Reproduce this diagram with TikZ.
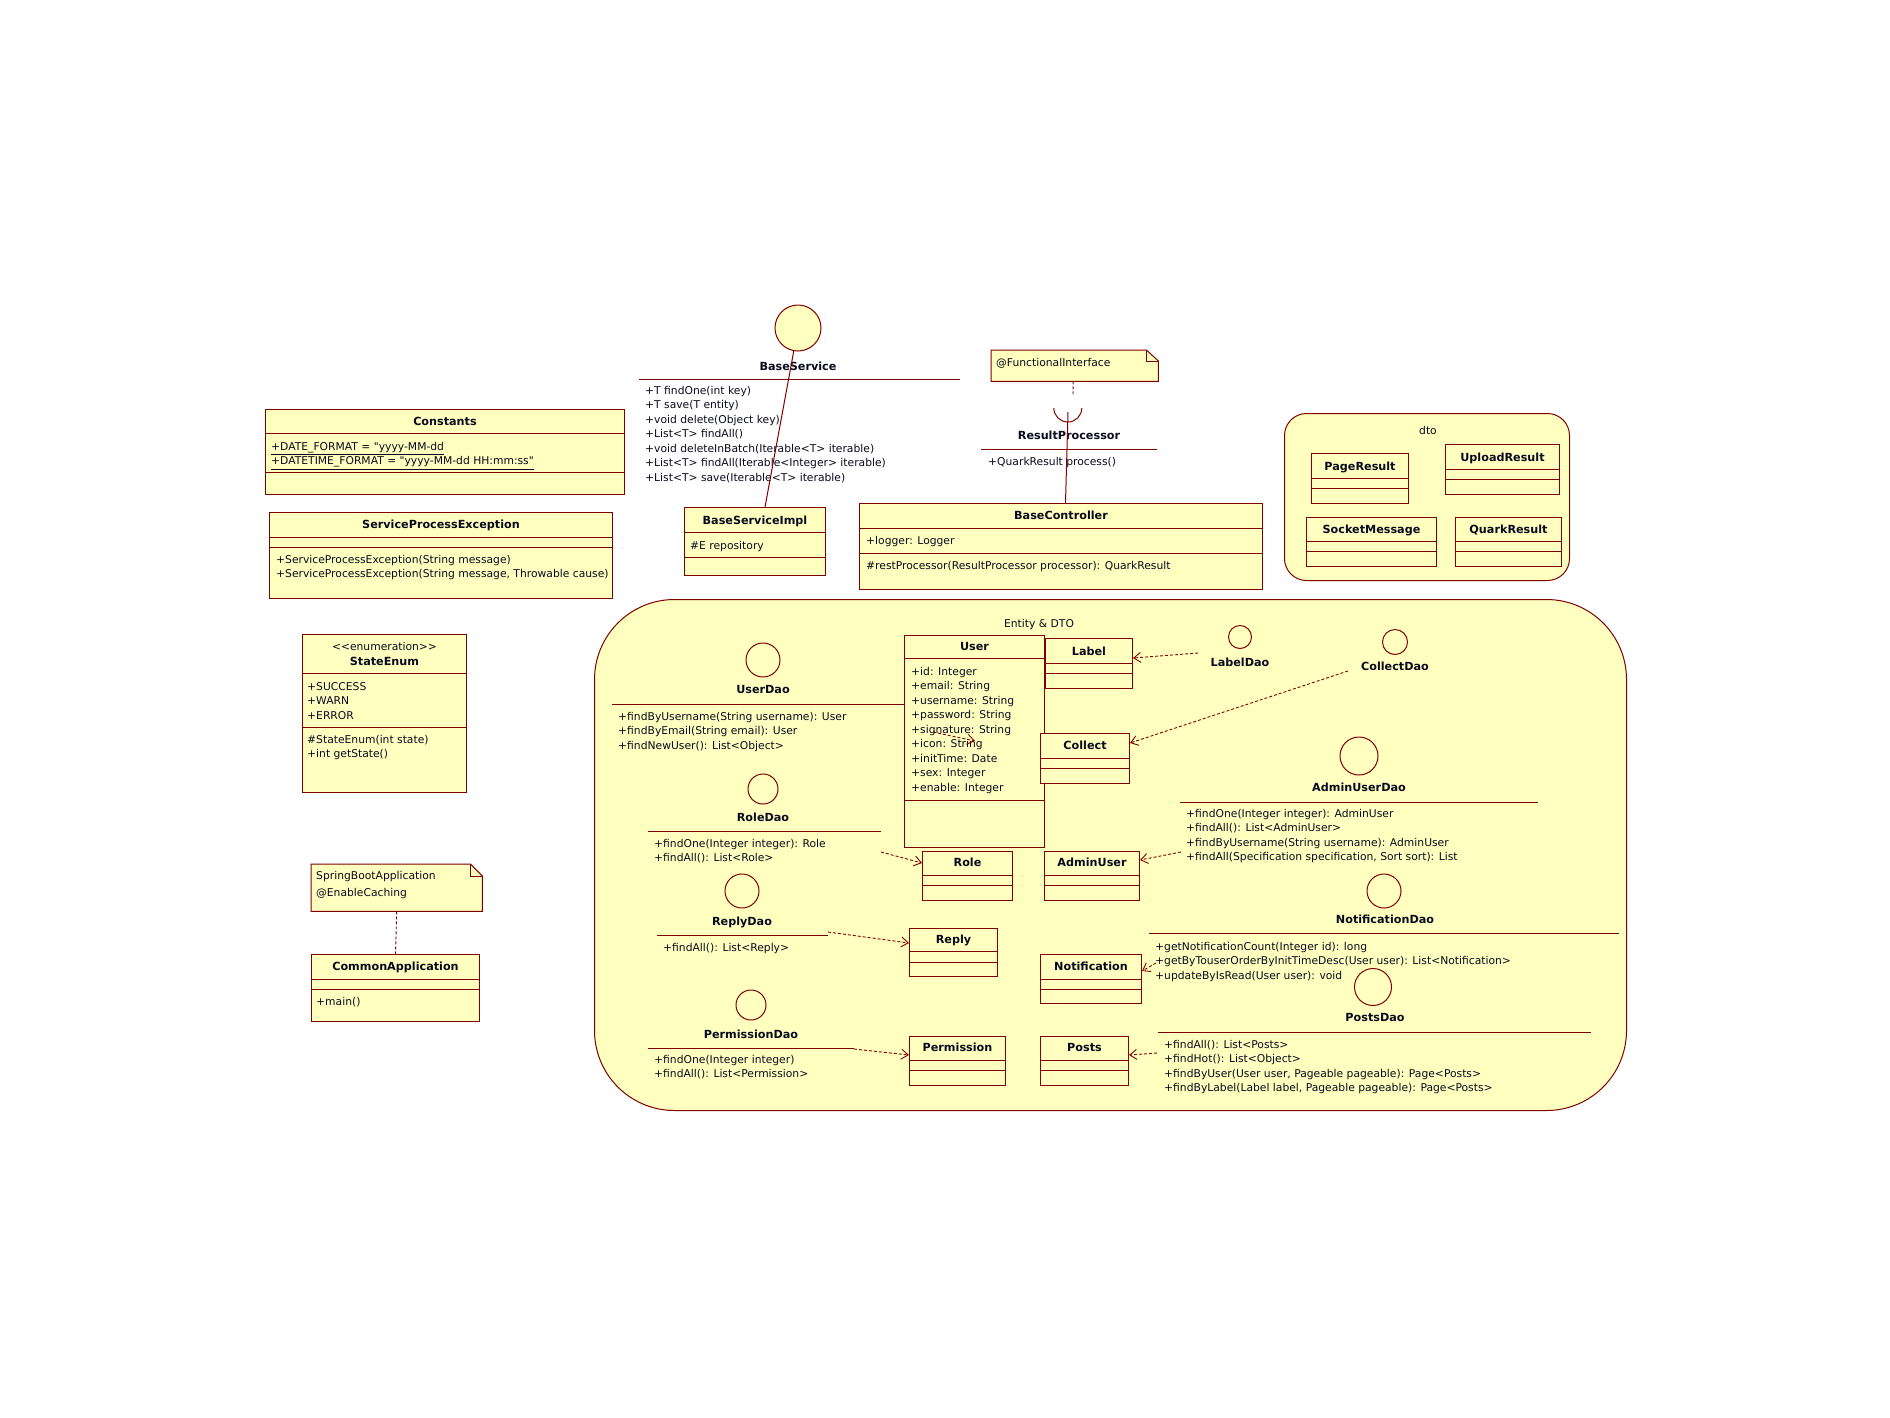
\documentclass[tikz,border=0pt]{standalone}
\usepackage{fontspec}
\setmainfont{DejaVu Sans}
\usetikzlibrary{positioning,calc,arrows.meta}
\definecolor{umlFill}{RGB}{255,255,192}
\definecolor{umlEdge}{RGB}{128,0,0}
\definecolor{umlInk}{RGB}{10,10,30}

\begin{document}
\begin{tikzpicture}[
  x=1pt,y=-1pt,
  font=\fontsize{10.75}{14.5}\selectfont,text=umlInk,
  cls/.style={draw=umlEdge,fill=umlFill,line width=1pt,anchor=north west,inner sep=0pt},
  ttl/.style={font=\fontsize{11.2}{14.5}\selectfont\bfseries,inner sep=0pt,anchor=base},
  plain/.style={inner sep=0pt,anchor=base},
  mbr/.style={align=left,anchor=north west,inner sep=0pt},
  divider/.style={draw=umlEdge,line width=1pt},
  iface/.style={circle,draw=umlEdge,fill=umlFill,line width=1pt,inner sep=0pt},
  real/.style={draw=umlEdge,line width=1pt},
  dep/.style={draw=umlEdge,line width=0.9pt,dash pattern=on 3pt off 2pt,
              -{Straight Barb[length=7pt,width=10pt]}},
  noteline/.style={draw=umlEdge,line width=0.9pt,dash pattern=on 3pt off 2pt},
  notebox/.style={anchor=north west,inner sep=0pt},
  notedraw/.style={draw=umlEdge,fill=umlFill,line width=1pt},
  pkg/.style={draw=umlEdge,fill=umlFill,line width=1pt,anchor=north west,inner sep=0pt}
]
\path[use as bounding box,fill=white] (0,0) rectangle (1890,1417);

% ==========  Packages  ==========
\node[pkg,minimum width=1032pt,minimum height=511pt,rounded corners=80pt] (entpkg) at (594,599) {};
\node[plain] (entpkg-t) at (1039,627) {Entity \& DTO};
\node[pkg,minimum width=285pt,minimum height=167pt,rounded corners=22pt] (dtopkg) at (1284,413) {};
\node[plain] (dtopkg-t) at (1428,434) {dto};

% ==========  Left column  ==========
\node[cls,minimum width=359pt,minimum height=85pt] (const) at (265,409) {};
\node[ttl] (const-t) at ([yshift=-16pt]const.north) {Constants};
\draw[divider] ([yshift=-24pt]const.north west) -- ([yshift=-24pt]const.north east)
               ([yshift=-63pt]const.north west) -- ([yshift=-63pt]const.north east);
\node[mbr] (const-a) at (271,442)
  {\underline{+DATE\_FORMAT = \textquotedbl yyyy-MM-dd}\\
   \underline{+DATETIME\_FORMAT = \textquotedbl yyyy-MM-dd HH:mm:ss\textquotedbl}};

\node[cls,minimum width=343pt,minimum height=86pt] (spe) at (269,512) {};
\node[ttl] (spe-t) at ([yshift=-16pt]spe.north) {ServiceProcessException};
\draw[divider] ([yshift=-25pt]spe.north west) -- ([yshift=-25pt]spe.north east)
               ([yshift=-35pt]spe.north west) -- ([yshift=-35pt]spe.north east);
\node[mbr] (spe-o) at (276,555)
  {+ServiceProcessException(String message)\\+ServiceProcessException(String message, Throwable cause)};

\node[cls,minimum width=164pt,minimum height=158pt] (senum) at (302,634) {};
\node[plain] (senum-s) at ([yshift=-16pt]senum.north) {<{}<enumeration>{}>};
\node[ttl] (senum-t) at ([yshift=-31pt]senum.north) {StateEnum};
\draw[divider] ([yshift=-39pt]senum.north west) -- ([yshift=-39pt]senum.north east)
               ([yshift=-93pt]senum.north west) -- ([yshift=-93pt]senum.north east);
\node[mbr] (senum-a) at (307,682) {+SUCCESS\\+WARN\\+ERROR};
\node[mbr] (senum-o) at (307,735) {\#StateEnum(int state)\\+int getState()};

% note + CommonApplication
\node[notebox,minimum width=171pt,minimum height=47pt] (sbnote) at (311,864) {};
\filldraw[notedraw] (sbnote.north west) -- ([xshift=-12pt]sbnote.north east)
  -- ([yshift=-12pt]sbnote.north east) -- (sbnote.south east) -- (sbnote.south west) -- cycle;
\draw[divider] ([xshift=-12pt]sbnote.north east) |- ([yshift=-12pt]sbnote.north east);
\node[mbr] (sbnote-x) at (316,871) {SpringBootApplication\\[2.5pt]@EnableCaching};

\node[cls,minimum width=168pt,minimum height=67pt] (capp) at (311,954) {};
\node[ttl] (capp-t) at ([yshift=-16pt]capp.north) {CommonApplication};
\draw[divider] ([yshift=-25pt]capp.north west) -- ([yshift=-25pt]capp.north east)
               ([yshift=-35pt]capp.north west) -- ([yshift=-35pt]capp.north east);
\node[mbr] (capp-o) at (316,997) {+main()};
\draw[noteline] (sbnote.south) -- (capp.north);

% ==========  Service / controller  ==========
\node[iface,minimum size=46pt] (bsv) at (798,328) {};
\node[ttl] (bsv-t) at (798,370) {BaseService};
\draw[divider] (639,379) -- (960,379);
\node[mbr] (bsv-o) at (645,386)
  {+T findOne(int key)\\+T save(T entity)\\+void delete(Object key)\\+List<T> findAll()\\
   +void deleteInBatch(Iterable<T> iterable)\\+List<T> findAll(Iterable<Integer> iterable)\\
   +List<T> save(Iterable<T> iterable)};

\node[cls,minimum width=141pt,minimum height=68pt] (bsimpl) at (684,507) {};
\node[ttl] (bsimpl-t) at ([yshift=-17pt]bsimpl.north) {BaseServiceImpl};
\draw[divider] ([yshift=-25pt]bsimpl.north west) -- ([yshift=-25pt]bsimpl.north east)
               ([yshift=-50pt]bsimpl.north west) -- ([yshift=-50pt]bsimpl.north east);
\node[mbr] (bsimpl-a) at (690,541) {\#E repository};
\draw[real] (bsv) -- ([xshift=10pt]bsimpl.north);

\node[notebox,minimum width=167pt,minimum height=31pt] (fnote) at (991,350) {};
\filldraw[notedraw] (fnote.north west) -- ([xshift=-12pt]fnote.north east)
  -- ([yshift=-11pt]fnote.north east) -- (fnote.south east) -- (fnote.south west) -- cycle;
\draw[divider] ([xshift=-12pt]fnote.north east) |- ([yshift=-11pt]fnote.north east);
\node[mbr] (fnote-x) at (996,358) {@FunctionalInterface};
\coordinate (fnote-end) at (1073,395);
\draw[noteline] ([xshift=-1.5pt]fnote.south) -- (fnote-end);

\node[inner sep=0pt,minimum size=28pt,circle] (rpsock) at (1068,408) {};
\draw[real] (rpsock.west) arc[start angle=180,end angle=360,radius=14pt];
\node[ttl] (rp-t) at (1069,439) {ResultProcessor};
\draw[divider] (981,449) -- (1157,449);
\node[mbr] (rp-o) at (988,457) {+QuarkResult process()};

\node[cls,minimum width=403pt,minimum height=86pt] (bctrl) at (859,503) {};
\node[ttl] (bctrl-t) at ([yshift=-16pt]bctrl.north) {BaseController};
\draw[divider] ([yshift=-25pt]bctrl.north west) -- ([yshift=-25pt]bctrl.north east)
               ([yshift=-50pt]bctrl.north west) -- ([yshift=-50pt]bctrl.north east);
\node[mbr] (bctrl-a) at (866,536) {+logger: Logger};
\node[mbr] (bctrl-o) at (866,561) {\#restProcessor(ResultProcessor processor): QuarkResult};
\draw[real] ([yshift=-4pt]rpsock.center) -- ([xshift=4.5pt]bctrl.north);

% ==========  dto  ==========
\node[cls,minimum width=97pt,minimum height=50pt] (pres) at (1311,453) {};
\node[ttl] (pres-t) at ([yshift=-17pt]pres.north) {PageResult};
\draw[divider] ([yshift=-25pt]pres.north west) -- ([yshift=-25pt]pres.north east)
               ([yshift=-35pt]pres.north west) -- ([yshift=-35pt]pres.north east);
\node[cls,minimum width=114pt,minimum height=50pt] (ures) at (1445,444) {};
\node[ttl] (ures-t) at ([yshift=-17pt]ures.north) {UploadResult};
\draw[divider] ([yshift=-25pt]ures.north west) -- ([yshift=-25pt]ures.north east)
               ([yshift=-35pt]ures.north west) -- ([yshift=-35pt]ures.north east);
\node[cls,minimum width=130pt,minimum height=49pt] (smsg) at (1306,517) {};
\node[ttl] (smsg-t) at ([yshift=-16pt]smsg.north) {SocketMessage};
\draw[divider] ([yshift=-24pt]smsg.north west) -- ([yshift=-24pt]smsg.north east)
               ([yshift=-34pt]smsg.north west) -- ([yshift=-34pt]smsg.north east);
\node[cls,minimum width=106pt,minimum height=49pt] (qres) at (1455,517) {};
\node[ttl] (qres-t) at ([yshift=-16pt]qres.north) {QuarkResult};
\draw[divider] ([yshift=-24pt]qres.north west) -- ([yshift=-24pt]qres.north east)
               ([yshift=-34pt]qres.north west) -- ([yshift=-34pt]qres.north east);

% ==========  Entity & DTO  ==========
\node[cls,minimum width=87pt,minimum height=50pt] (label) at (1045,638) {};
\node[ttl] (label-t) at ([yshift=-17pt]label.north) {Label};
\draw[divider] ([yshift=-25pt]label.north west) -- ([yshift=-25pt]label.north east)
               ([yshift=-35pt]label.north west) -- ([yshift=-35pt]label.north east);

\node[cls,minimum width=140pt,minimum height=212pt] (user) at (904,635) {};
\node[ttl] (user-t) at ([yshift=-15pt]user.north) {User};
\draw[divider] ([yshift=-23pt]user.north west) -- ([yshift=-23pt]user.north east)
               ([yshift=-165pt]user.north west) -- ([yshift=-165pt]user.north east);
\node[mbr] (user-a) at (911,667)
  {+id: Integer\\+email: String\\+username: String\\+password: String\\+signature: String\\
   +icon: String\\+initTime: Date\\+sex: Integer\\+enable: Integer};

\node[cls,minimum width=89pt,minimum height=50pt] (collect) at (1040,733) {};
\node[ttl] (collect-t) at ([yshift=-16pt]collect.north) {Collect};
\draw[divider] ([yshift=-25pt]collect.north west) -- ([yshift=-25pt]collect.north east)
               ([yshift=-35pt]collect.north west) -- ([yshift=-35pt]collect.north east);

\node[cls,minimum width=90pt,minimum height=49pt] (role) at (922,851) {};
\node[ttl] (role-t) at ([yshift=-15pt]role.north) {Role};
\draw[divider] ([yshift=-24pt]role.north west) -- ([yshift=-24pt]role.north east)
               ([yshift=-34pt]role.north west) -- ([yshift=-34pt]role.north east);
\node[cls,minimum width=95pt,minimum height=49pt] (admin) at (1044,851) {};
\node[ttl] (admin-t) at ([yshift=-15pt]admin.north) {AdminUser};
\draw[divider] ([yshift=-24pt]admin.north west) -- ([yshift=-24pt]admin.north east)
               ([yshift=-34pt]admin.north west) -- ([yshift=-34pt]admin.north east);
\node[cls,minimum width=88pt,minimum height=48pt] (reply) at (909,928) {};
\node[ttl] (reply-t) at ([yshift=-15pt]reply.north) {Reply};
\draw[divider] ([yshift=-23pt]reply.north west) -- ([yshift=-23pt]reply.north east)
               ([yshift=-34pt]reply.north west) -- ([yshift=-34pt]reply.north east);
\node[cls,minimum width=101pt,minimum height=49pt] (notif) at (1040,954) {};
\node[ttl] (notif-t) at ([yshift=-16pt]notif.north) {Notification};
\draw[divider] ([yshift=-25pt]notif.north west) -- ([yshift=-25pt]notif.north east)
               ([yshift=-35pt]notif.north west) -- ([yshift=-35pt]notif.north east);
\node[cls,minimum width=96pt,minimum height=49pt] (perm) at (909,1036) {};
\node[ttl] (perm-t) at ([yshift=-15pt]perm.north) {Permission};
\draw[divider] ([yshift=-24pt]perm.north west) -- ([yshift=-24pt]perm.north east)
               ([yshift=-34pt]perm.north west) -- ([yshift=-34pt]perm.north east);
\node[cls,minimum width=88pt,minimum height=49pt] (posts) at (1040,1036) {};
\node[ttl] (posts-t) at ([yshift=-15pt]posts.north) {Posts};
\draw[divider] ([yshift=-24pt]posts.north west) -- ([yshift=-24pt]posts.north east)
               ([yshift=-34pt]posts.north west) -- ([yshift=-34pt]posts.north east);

% ----- Dao interfaces (left) -----
\node[iface,minimum size=34pt] (udao) at (763,660) {};
\node[ttl] (udao-t) at (763,693) {UserDao};
\draw[divider] (612,704) -- (user.west |- 0,704);
\node[mbr] (udao-o) at (618,712)
  {+findByUsername(String username): User\\+findByEmail(String email): User\\+findNewUser(): List<Object>};

\node[iface,minimum size=30pt] (rdao) at (763,789) {};
\node[ttl] (rdao-t) at (763,821) {RoleDao};
\draw[divider] (648,831) -- (881,831);
\node[mbr] (rdao-o) at (654,839) {+findOne(Integer integer): Role\\+findAll(): List<Role>};

\node[iface,minimum size=34pt] (rpdao) at (742,891) {};
\node[ttl] (rpdao-t) at (742,925) {ReplyDao};
\draw[divider] (657,935) -- (828,935);
\node[mbr] (rpdao-o) at (663,943) {+findAll(): List<Reply>};

\node[iface,minimum size=30pt] (pdao) at (751,1005) {};
\node[ttl] (pdao-t) at (751,1038) {PermissionDao};
\draw[divider] (648,1048) -- (854,1048);
\node[mbr] (pdao-o) at (654,1055) {+findOne(Integer integer)\\+findAll(): List<Permission>};

% ----- Dao interfaces (right) -----
\node[iface,minimum size=23pt] (ldao) at (1240,637) {};
\node[ttl] (ldao-t) at (1240,666) {LabelDao};
\node[iface,minimum size=25pt] (cdao) at (1395,642) {};
\node[ttl] (cdao-t) at (1395,670) {CollectDao};

\node[iface,minimum size=38pt] (audao) at (1359,756) {};
\node[ttl] (audao-t) at (1359,791) {AdminUserDao};
\draw[divider] (1180,802) -- (1538,802);
\node[mbr] (audao-o) at (1186,809)
  {+findOne(Integer integer): AdminUser\\+findAll(): List<AdminUser>\\
   +findByUsername(String username): AdminUser\\+findAll(Specification specification, Sort sort): List};

\node[iface,minimum size=34pt] (ndao) at (1384,891) {};
\node[ttl] (ndao-t) at (1385,923) {NotificationDao};
\draw[divider] (1149,933) -- (1619,933);
\node[mbr] (ndao-o) at (1155,942)
  {+getNotificationCount(Integer id): long\\+getByTouserOrderByInitTimeDesc(User user): List<Notification>\\
   +updateByIsRead(User user): void};

\node[iface,minimum size=37pt] (podao) at (1373,987) {};
\node[ttl] (podao-t) at (1375,1021) {PostsDao};
\draw[divider] (1158,1032) -- (1591,1032);
\node[mbr] (podao-o) at (1164,1040)
  {+findAll(): List<Posts>\\+findHot(): List<Object>\\+findByUser(User user, Pageable pageable): Page<Posts>\\
   +findByLabel(Label label, Pageable pageable): Page<Posts>};

% ==========  Dependencies  ==========
\coordinate (ldao-tail) at (1198,653);
\coordinate (cdao-tail) at (1348,671);
\coordinate (audao-tail) at (1181,852);
\coordinate (rdao-tail) at (881,852);
\coordinate (rpdao-tail) at (828,932);
\coordinate (pdao-tail) at (854,1049);
\coordinate (ndao-tail) at (1156,963);
\coordinate (podao-tail) at (1157,1053);
\coordinate (udao-tail) at (933,732);
\coordinate (udao-head) at (975,741);
\draw[dep] (ldao-tail) -- ([yshift=-20pt]label.north east);
\draw[dep] (cdao-tail) -- ([yshift=-10pt]collect.north east);
\draw[dep] (audao-tail) -- ([yshift=-9pt]admin.north east);
\draw[dep] (rdao-tail) -- ([yshift=-12pt]role.north west);
\draw[dep] (rpdao-tail) -- ([yshift=-15pt]reply.north west);
\draw[dep] (pdao-tail) -- ([yshift=-19pt]perm.north west);
\draw[dep] (ndao-tail) -- ([yshift=-17pt]notif.north east);
\draw[dep] (podao-tail) -- ([yshift=-19pt]posts.north east);
\draw[dep] (udao-tail) -- (udao-head);

\end{tikzpicture}
\end{document}
